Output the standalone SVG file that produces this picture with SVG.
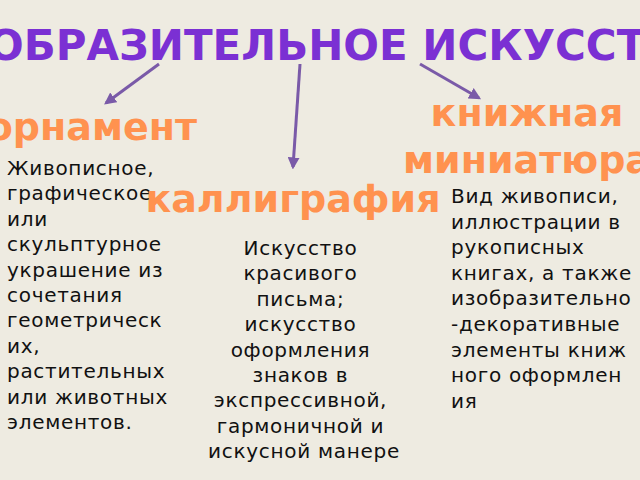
<svg xmlns="http://www.w3.org/2000/svg" width="640" height="480" viewBox="0 0 640 480">
<style>
.title{font-family:"DejaVu Sans",sans-serif;font-weight:bold;font-size:42px;fill:#7B30D3}
.lbl{font-family:"DejaVu Sans",sans-serif;font-weight:bold;font-size:38px;fill:#FF924F}
.body{font-family:"DejaVu Sans",sans-serif;font-size:20px;letter-spacing:0.7px;fill:#111111}
.conn{stroke:#7A5AA8;stroke-width:3;fill:none}
</style>
<defs>
<marker id="ah" viewBox="0 0 10 10" refX="8" refY="5" markerWidth="4" markerHeight="4" orient="auto" markerUnits="strokeWidth">
<path d="M0,0 L10,5 L0,10 z" fill="#7A5AA8"/>
</marker>
</defs>
<rect width="640" height="480" fill="#EEEBE1"/>
<g id="title"><text class="title" x="318" y="60" text-anchor="middle">ИЗОБРАЗИТЕЛЬНОЕ ИСКУССТВО</text></g>
<g id="connectors">
<line class="conn" x1="159" y1="64" x2="106" y2="103" marker-end="url(#ah)"/>
<line class="conn" x1="300" y1="64" x2="293" y2="167" marker-end="url(#ah)"/>
<line class="conn" x1="420" y1="64" x2="479" y2="98" marker-end="url(#ah)"/>
</g>
<g id="ornament">
<text class="lbl" x="197" y="140" text-anchor="end">орнамент</text>
<text class="body" x="7">
<tspan x="7" y="175">Живописное,</tspan>
<tspan x="7" y="200.4">графическое</tspan>
<tspan x="7" y="225.8">или</tspan>
<tspan x="7" y="251.2">скульптурное</tspan>
<tspan x="7" y="276.6">украшение из</tspan>
<tspan x="7" y="302">сочетания</tspan>
<tspan x="7" y="327.4">геометрическ</tspan>
<tspan x="7" y="352.8">их,</tspan>
<tspan x="7" y="378.2">растительных</tspan>
<tspan x="7" y="403.6">или животных</tspan>
<tspan x="7" y="429">элементов.</tspan>
</text>
</g>
<g id="calligraphy">
<text class="lbl" x="293" y="212" text-anchor="middle">каллиграфия</text>
<text class="body" text-anchor="middle">
<tspan x="304" y="255">Искусство</tspan>
<tspan x="304" y="280.4">красивого</tspan>
<tspan x="304" y="305.8">письма;</tspan>
<tspan x="304" y="331.2">искусство</tspan>
<tspan x="304" y="356.6">оформления</tspan>
<tspan x="304" y="382">знаков в</tspan>
<tspan x="304" y="407.4">экспрессивной,</tspan>
<tspan x="304" y="432.8">гармоничной и</tspan>
<tspan x="304" y="458.2">искусной манере</tspan>
</text>
</g>
<g id="miniature">
<text class="lbl" text-anchor="middle"><tspan x="527" y="126">книжная</tspan><tspan x="527" y="173">миниатюра</tspan></text>
<text class="body">
<tspan x="451" y="203">Вид живописи,</tspan>
<tspan x="451" y="228.6">иллюстрации в</tspan>
<tspan x="451" y="254.2">рукописных</tspan>
<tspan x="451" y="279.8">книгах, а также</tspan>
<tspan x="451" y="305.4">изобразительно</tspan>
<tspan x="451" y="331">-декоративные</tspan>
<tspan x="451" y="356.6">элементы книж</tspan>
<tspan x="451" y="382.2">ного оформлен</tspan>
<tspan x="451" y="407.8">ия</tspan>
</text>
</g>
</svg>
